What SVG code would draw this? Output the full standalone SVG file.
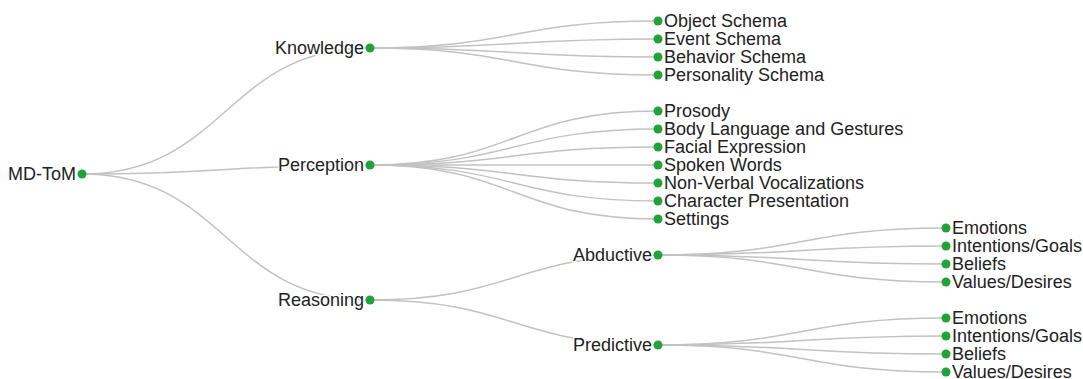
<svg xmlns="http://www.w3.org/2000/svg" width="1083" height="379" viewBox="0 0 1083 379">
<style>
.link{fill:none;stroke:#c2c2c2;stroke-width:1.5}
.node circle{fill:#22a33a}
.node text{font-family:"Liberation Sans",Arial,sans-serif;font-size:18px;fill:#222;stroke:#fff;stroke-width:3px;paint-order:stroke;stroke-linejoin:round;dominant-baseline:central}
.l text{text-anchor:start}
.p text{text-anchor:end}
</style>
<rect width="1083" height="379" fill="#fff"/>
<g id="links">
<path class="link" d="M82,174C226,174 226,48 370,48"/>
<path class="link" d="M82,174C226,174 226,165 370,165"/>
<path class="link" d="M82,174C226,174 226,300 370,300"/>
<path class="link" d="M370,48C514,48 514,21 658,21"/>
<path class="link" d="M370,48C514,48 514,39 658,39"/>
<path class="link" d="M370,48C514,48 514,57 658,57"/>
<path class="link" d="M370,48C514,48 514,75 658,75"/>
<path class="link" d="M370,165C514,165 514,111 658,111"/>
<path class="link" d="M370,165C514,165 514,129 658,129"/>
<path class="link" d="M370,165C514,165 514,147 658,147"/>
<path class="link" d="M370,165C514,165 514,165 658,165"/>
<path class="link" d="M370,165C514,165 514,183 658,183"/>
<path class="link" d="M370,165C514,165 514,201 658,201"/>
<path class="link" d="M370,165C514,165 514,219 658,219"/>
<path class="link" d="M370,300C514,300 514,255 658,255"/>
<path class="link" d="M370,300C514,300 514,345 658,345"/>
<path class="link" d="M658,255C802,255 802,228 946,228"/>
<path class="link" d="M658,255C802,255 802,246 946,246"/>
<path class="link" d="M658,255C802,255 802,264 946,264"/>
<path class="link" d="M658,255C802,255 802,282 946,282"/>
<path class="link" d="M658,345C802,345 802,318 946,318"/>
<path class="link" d="M658,345C802,345 802,336 946,336"/>
<path class="link" d="M658,345C802,345 802,354 946,354"/>
<path class="link" d="M658,345C802,345 802,372 946,372"/>
</g>
<g id="n-mdtom" class="node p"><circle cx="82" cy="174" r="4.5"/><text x="76" y="174">MD-ToM</text></g>
<g id="n-knowledge" class="node p"><circle cx="370" cy="48" r="4.5"/><text x="364" y="48">Knowledge</text></g>
<g id="n-perception" class="node p"><circle cx="370" cy="165" r="4.5"/><text x="364" y="165">Perception</text></g>
<g id="n-reasoning" class="node p"><circle cx="370" cy="300" r="4.5"/><text x="364" y="300">Reasoning</text></g>
<g id="n-object" class="node l"><circle cx="658" cy="21" r="4.5"/><text x="664" y="21">Object Schema</text></g>
<g id="n-event" class="node l"><circle cx="658" cy="39" r="4.5"/><text x="664" y="39">Event Schema</text></g>
<g id="n-behavior" class="node l"><circle cx="658" cy="57" r="4.5"/><text x="664" y="57">Behavior Schema</text></g>
<g id="n-personality" class="node l"><circle cx="658" cy="75" r="4.5"/><text x="664" y="75">Personality Schema</text></g>
<g id="n-prosody" class="node l"><circle cx="658" cy="111" r="4.5"/><text x="664" y="111">Prosody</text></g>
<g id="n-body" class="node l"><circle cx="658" cy="129" r="4.5"/><text x="664" y="129">Body Language and Gestures</text></g>
<g id="n-facial" class="node l"><circle cx="658" cy="147" r="4.5"/><text x="664" y="147">Facial Expression</text></g>
<g id="n-spoken" class="node l"><circle cx="658" cy="165" r="4.5"/><text x="664" y="165">Spoken Words</text></g>
<g id="n-nonverbal" class="node l"><circle cx="658" cy="183" r="4.5"/><text x="664" y="183">Non-Verbal Vocalizations</text></g>
<g id="n-character" class="node l"><circle cx="658" cy="201" r="4.5"/><text x="664" y="201">Character Presentation</text></g>
<g id="n-settings" class="node l"><circle cx="658" cy="219" r="4.5"/><text x="664" y="219">Settings</text></g>
<g id="n-abductive" class="node p"><circle cx="658" cy="255" r="4.5"/><text x="652" y="255">Abductive</text></g>
<g id="n-predictive" class="node p"><circle cx="658" cy="345" r="4.5"/><text x="652" y="345">Predictive</text></g>
<g id="n-a-emotions" class="node l"><circle cx="946" cy="228" r="4.5"/><text x="952" y="228">Emotions</text></g>
<g id="n-a-intentions" class="node l"><circle cx="946" cy="246" r="4.5"/><text x="952" y="246">Intentions/Goals</text></g>
<g id="n-a-beliefs" class="node l"><circle cx="946" cy="264" r="4.5"/><text x="952" y="264">Beliefs</text></g>
<g id="n-a-values" class="node l"><circle cx="946" cy="282" r="4.5"/><text x="952" y="282">Values/Desires</text></g>
<g id="n-p-emotions" class="node l"><circle cx="946" cy="318" r="4.5"/><text x="952" y="318">Emotions</text></g>
<g id="n-p-intentions" class="node l"><circle cx="946" cy="336" r="4.5"/><text x="952" y="336">Intentions/Goals</text></g>
<g id="n-p-beliefs" class="node l"><circle cx="946" cy="354" r="4.5"/><text x="952" y="354">Beliefs</text></g>
<g id="n-p-values" class="node l"><circle cx="946" cy="372" r="4.5"/><text x="952" y="372">Values/Desires</text></g>
</svg>
